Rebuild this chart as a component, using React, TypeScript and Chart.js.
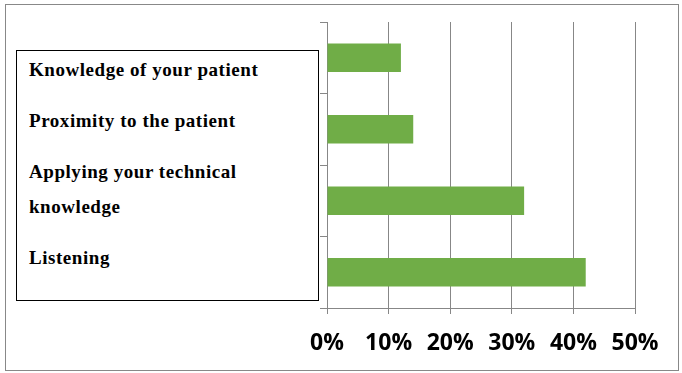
import React, { useEffect, useRef } from "react";
import { Chart, registerables } from "chart.js";

Chart.register(...registerables);

const categories = [
  "Knowledge of your patient",
  "Proximity to the patient",
  "Applying your technical knowledge",
  "Listening",
];
const values = [12, 14, 32, 42];
const xTicks = [0, 10, 20, 30, 40, 50];

const GRID = "#878787";

export default function App() {
  const ref = useRef<HTMLCanvasElement | null>(null);

  useEffect(() => {
    document.body.style.margin = "0";
    const canvas = ref.current;
    if (!canvas) return;
    const chart = new Chart(canvas, {
      type: "bar",
      data: {
        labels: categories,
        datasets: [
          {
            data: values,
            backgroundColor: "#70AD47",
            borderWidth: 0,
            barPercentage: 0.4,
            categoryPercentage: 1,
          },
        ],
      },
      options: {
        indexAxis: "y",
        responsive: false,
        animation: false,
        devicePixelRatio: 1,
        layout: { padding: { left: 320, right: 47, top: 22, bottom: 0 } },
        plugins: {
          legend: { display: false },
          tooltip: { enabled: false },
        },
        scales: {
          x: {
            min: xTicks[0],
            max: xTicks[xTicks.length - 1],
            afterFit: (scale: any) => {
              scale.height = 65;
            },
            ticks: {
              stepSize: 10,
              callback: (v: any) => v + "%",
              color: "#000",
              padding: 16,
              maxRotation: 0,
              font: { family: "'Open Sans'", weight: "bold", size: 23 },
            },
            grid: {
              color: GRID,
              lineWidth: 1,
              tickLength: 6,
              drawOnChartArea: true,
            },
            border: { color: GRID, width: 1 },
          },
          y: {
            ticks: { display: false },
            grid: {
              color: GRID,
              drawOnChartArea: false,
              tickLength: 7,
              offset: true,
            },
            border: { color: GRID, width: 1 },
          },
        },
      },
    });
    return () => chart.destroy();
  }, []);

  return (
    <div style={{ position: "relative", width: 682, height: 373, background: "#fff" }}>
      <div
        style={{
          position: "absolute",
          left: 5,
          top: 4,
          width: 672,
          height: 365,
          border: "1px solid #888",
        }}
      />
      <canvas
        ref={ref}
        width={682}
        height={373}
        style={{ position: "absolute", left: 0, top: 0, width: 682, height: 373 }}
      />
      <div
        style={{
          position: "absolute",
          left: 16,
          top: 50,
          width: 301,
          height: 249,
          border: "1px solid #000",
          background: "#fff",
          boxSizing: "content-box",
          paddingLeft: 0,
        }}
      >
        <div
          style={{
            position: "absolute",
            left: 12,
            top: 1,
            width: 280,
            fontFamily: "'Liberation Serif', 'Times New Roman', serif",
            fontWeight: "bold",
            fontSize: 19,
            letterSpacing: 0.55,
            lineHeight: "35px",
            color: "#000",
          }}
        >
          {categories.map((c) => (
            <div key={c} style={{ marginBottom: 16 }}>
              {c}
            </div>
          ))}
        </div>
      </div>
    </div>
  );
}
